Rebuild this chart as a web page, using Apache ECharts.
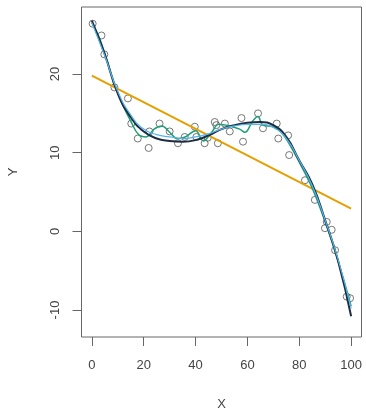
<!DOCTYPE html>
<html>
<head>
<meta charset="utf-8">
<script src="https://cdn.jsdelivr.net/npm/echarts@6/dist/echarts.min.js"></script>
<style>
  html, body { margin: 0; padding: 0; background: #fff; }
  #chart { width: 366px; height: 411px; }
</style>
</head>
<body>
<div id="chart"></div>
<script>
// observed points
const xPoints = [0.3, 3.7, 4.8, 8.7, 13.9, 15.2, 17.7, 21.9, 22.2, 26.1, 30.0, 33.2, 35.8,
  39.7, 40.3, 43.5, 44.7, 47.4, 48.0, 48.6, 51.3, 53.2, 57.7, 58.3, 64.1, 66.0, 71.3,
  71.9, 75.7, 76.1, 82.2, 86.0, 89.9, 90.6, 92.5, 93.8, 98.3, 99.6];
const yPoints = [26.4, 24.9, 22.5, 18.3, 16.9, 13.7, 11.8, 10.6, 12.7, 13.7, 12.7, 11.2, 12.0,
  13.3, 12.0, 11.2, 11.9, 13.9, 13.5, 11.2, 13.7, 12.7, 14.4, 11.4, 15.0, 13.1, 13.7,
  11.8, 12.2, 9.7, 6.5, 4.0, 0.4, 1.2, 0.2, -2.4, -8.3, -8.5];

// smooth fits
const fitX = [0, 5, 10, 15, 20, 25, 30, 35, 40, 45, 50, 55, 60, 65, 70, 75, 80, 85, 90, 95, 100];
const darkFit = [26.8, 22.5, 17.5, 14.5, 12.7, 11.8, 11.5, 11.4, 11.6, 12.2, 13.0, 13.5, 13.8,
  13.9, 13.5, 12.0, 9.0, 6.0, 1.4, -3.8, -10.8];
const blueFit = [26.5, 22.3, 17.8, 14.8, 13.0, 12.3, 12.0, 11.8, 12.0, 12.4, 13.0, 13.4, 13.6,
  13.6, 13.2, 11.8, 9.0, 5.8, 1.4, -3.6, -9.8];

// wiggly fit
const greenX = [0, 3, 6, 9, 12, 15, 18, 21, 24, 27, 30, 33, 36, 40, 43, 46, 49, 53, 57, 59,
  62, 64, 66, 70, 73, 76, 80, 85, 90, 95, 100];
const greenFit = [26.5, 24.5, 21.5, 18.5, 16.0, 14.0, 12.3, 12.0, 13.0, 13.4, 12.6, 11.8, 12.0,
  12.8, 11.5, 12.5, 13.6, 13.4, 13.0, 12.6, 14.0, 14.6, 13.5, 13.3, 12.6, 11.2, 8.8, 5.5,
  1.2, -3.8, -9.5];

// straight line fit
const lineX = [0, 100];
const lineFit = [19.8, 2.9];

const xTicks = [0, 20, 40, 60, 80, 100];
const yTicks = [-10, 0, 10, 20];

const pairs = (xs, ys) => xs.map((x, i) => [x, ys[i]]);

const chart = echarts.init(document.getElementById('chart'));
const font = 'Liberation Sans, Arial, sans-serif';
const textColor = '#444';

chart.setOption({
  animation: false,
  grid: {
    left: 81.5, right: 4.5, top: 7, bottom: 74,
    outerBoundsMode: 'none', containLabel: false,
    show: true, borderColor: '#666', borderWidth: 1, backgroundColor: 'transparent'
  },
  xAxis: {
    type: 'value', min: -4, max: 104,
    name: 'X', nameLocation: 'middle', nameGap: 61,
    nameTextStyle: { fontFamily: font, fontSize: 13, color: textColor },
    axisLine: { show: false, onZero: false },
    axisTick: { show: true, length: 9, lineStyle: { color: '#666' }, customValues: xTicks },
    axisLabel: { customValues: xTicks, margin: 22, fontFamily: font, fontSize: 13, color: textColor },
    splitLine: { show: false }
  },
  yAxis: {
    type: 'value', min: -13.43, max: 28.52,
    name: 'Y', nameLocation: 'middle', nameGap: 62, nameRotate: 90,
    nameTextStyle: { fontFamily: font, fontSize: 13, color: textColor },
    axisLine: { show: false, onZero: false },
    axisTick: { show: true, length: 9, lineStyle: { color: '#666' }, customValues: yTicks },
    axisLabel: { customValues: yTicks, rotate: 90, margin: 20, fontFamily: font, fontSize: 13, color: textColor },
    splitLine: { show: false }
  },
  series: [
    {
      type: 'scatter',
      data: pairs(xPoints, yPoints),
      symbol: 'circle',
      symbolSize: 7,
      itemStyle: { color: 'transparent', borderColor: '#555', borderWidth: 1 }
    },
    {
      type: 'line', data: pairs(lineX, lineFit), showSymbol: false,
      lineStyle: { color: '#E69F00', width: 2 }
    },
    {
      type: 'line', data: pairs(greenX, greenFit), showSymbol: false, smooth: 0.4,
      lineStyle: { color: '#1c9e76', width: 1.5 }
    },
    {
      type: 'line', data: pairs(fitX, darkFit), showSymbol: false, smooth: true,
      lineStyle: { color: '#1f2d44', width: 2 }
    },
    {
      type: 'line', data: pairs(fitX, blueFit), showSymbol: false, smooth: true,
      lineStyle: { color: '#56B4E9', width: 1.2 }
    }
  ]
});
</script>
</body>
</html>
